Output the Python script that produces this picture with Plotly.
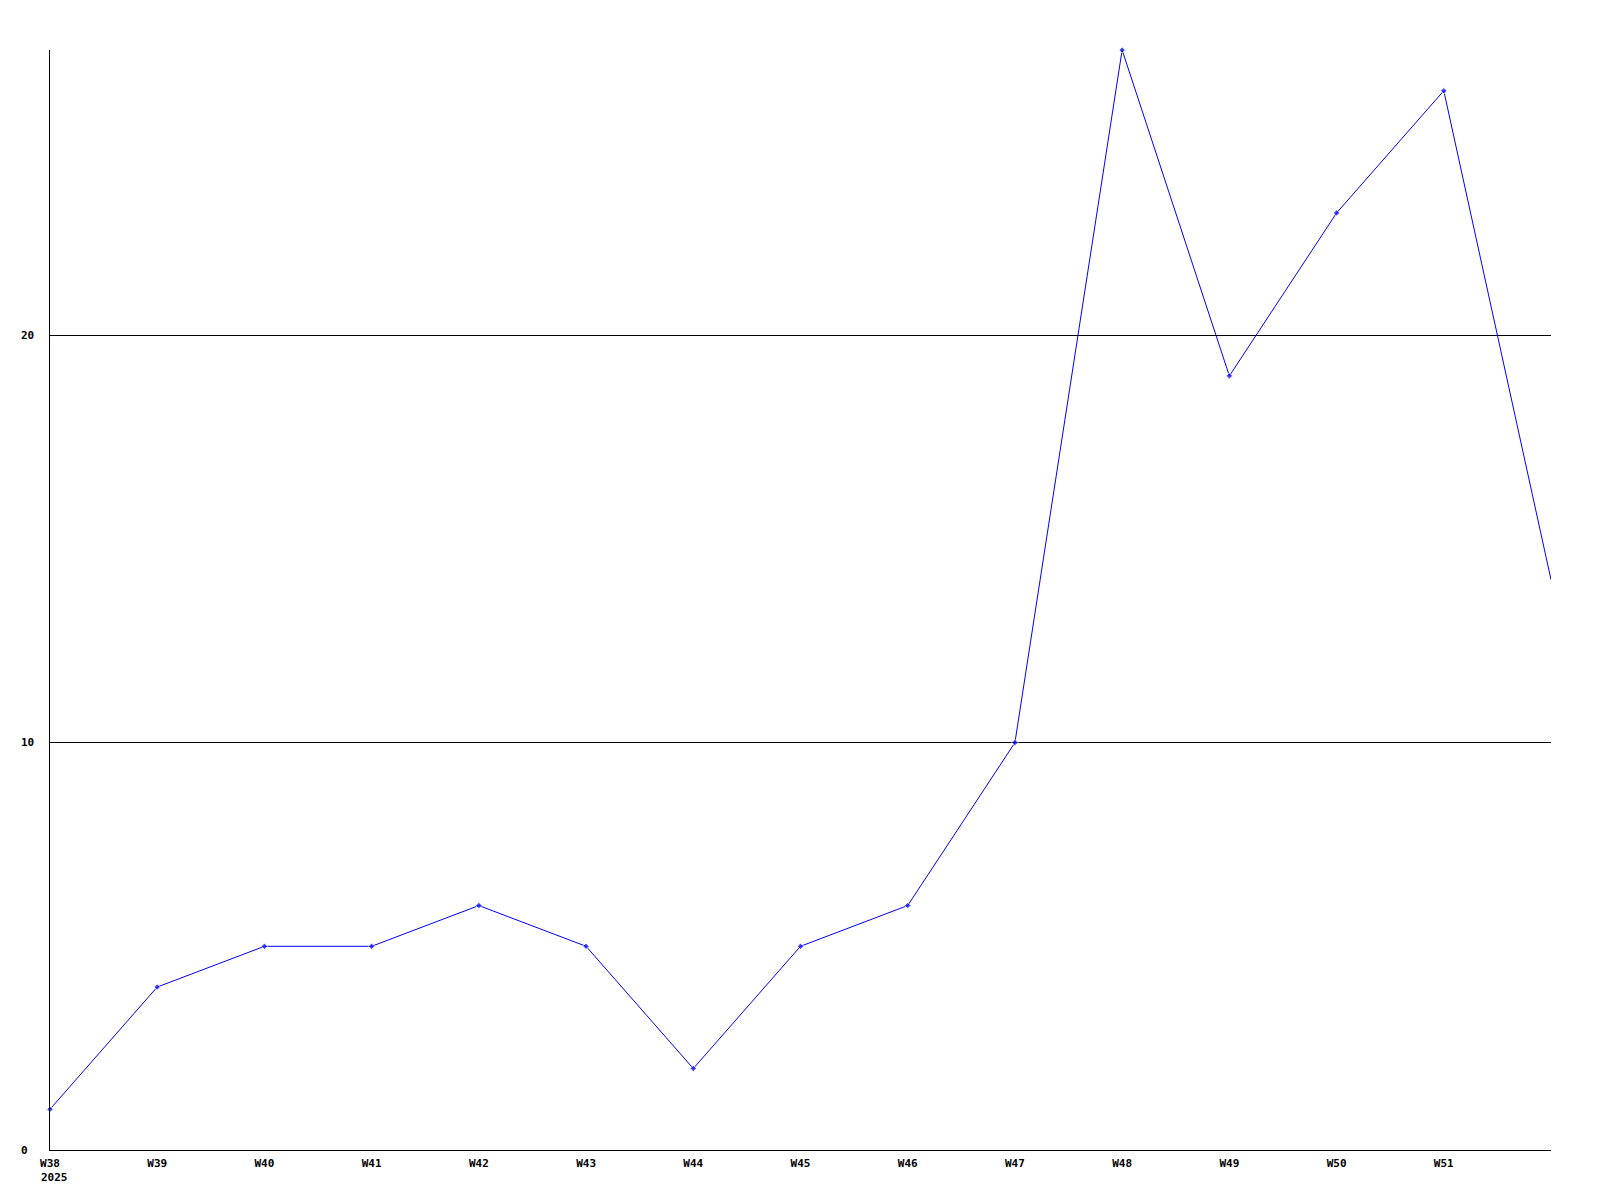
import plotly.graph_objects as go

weeks = ["W38", "W39", "W40", "W41", "W42", "W43", "W44", "W45", "W46", "W47", "W48", "W49", "W50", "W51", "W52"]
values = [1, 4, 5, 5, 6, 5, 2, 5, 6, 10, 27, 19, 23, 26, 14]
x_tick_labels = ["W38", "W39", "W40", "W41", "W42", "W43", "W44", "W45", "W46", "W47", "W48", "W49", "W50", "W51"]
year_label = "2025"
y_tick_vals = [0, 10, 20]

FONT = "DejaVu Sans Mono"
BLUE = "#0000ff"

# last point sits on the clipped right edge: no visible marker there
marker_sizes = [5] * (len(values) - 1) + [0]

fig = go.Figure()
fig.add_trace(go.Scatter(
    x=list(range(len(weeks))), y=values, mode="lines+markers",
    line=dict(color=BLUE, width=1),
    marker=dict(color=BLUE, size=marker_sizes, symbol="diamond"),
    cliponaxis=False, showlegend=False, hoverinfo="skip",
))

annotations = []
for v in y_tick_vals:
    annotations.append(dict(
        x=0, xref="paper", xshift=-31, xanchor="left",
        y=v, yref="y", yanchor="middle",
        text=f"<b>{v}</b>", showarrow=False,
        font=dict(family=FONT, size=11, color="black"),
    ))
annotations.append(dict(
    x=0, xref="x", xshift=-11, xanchor="left",
    y=0, yref="y", yanchor="middle", yshift=-27,
    text=f"<b>{year_label}</b>", showarrow=False,
    font=dict(family=FONT, size=11, color="black"),
))

fig.update_layout(
    width=1584, height=1184,
    margin=dict(l=42, r=41, t=42, b=42, pad=0),
    paper_bgcolor="white", plot_bgcolor="white",
    annotations=annotations,
    xaxis=dict(
        range=[0, len(weeks) - 1],
        tickmode="array",
        tickvals=list(range(len(x_tick_labels))),
        ticktext=[f"<b>{t}</b>" for t in x_tick_labels],
        tickfont=dict(family=FONT, size=11, color="black"),
        showgrid=False, zeroline=False,
        showline=True, linecolor="black", linewidth=1,
        ticks="outside", ticklen=3, tickcolor="rgba(0,0,0,0)",
    ),
    yaxis=dict(
        range=[0, 27],
        tickmode="array", tickvals=y_tick_vals,
        showticklabels=False,
        showgrid=True, gridcolor="black", gridwidth=1,
        zeroline=False,
        showline=True, linecolor="black", linewidth=1,
        ticks="",
    ),
)

fig.write_html("out.html")
